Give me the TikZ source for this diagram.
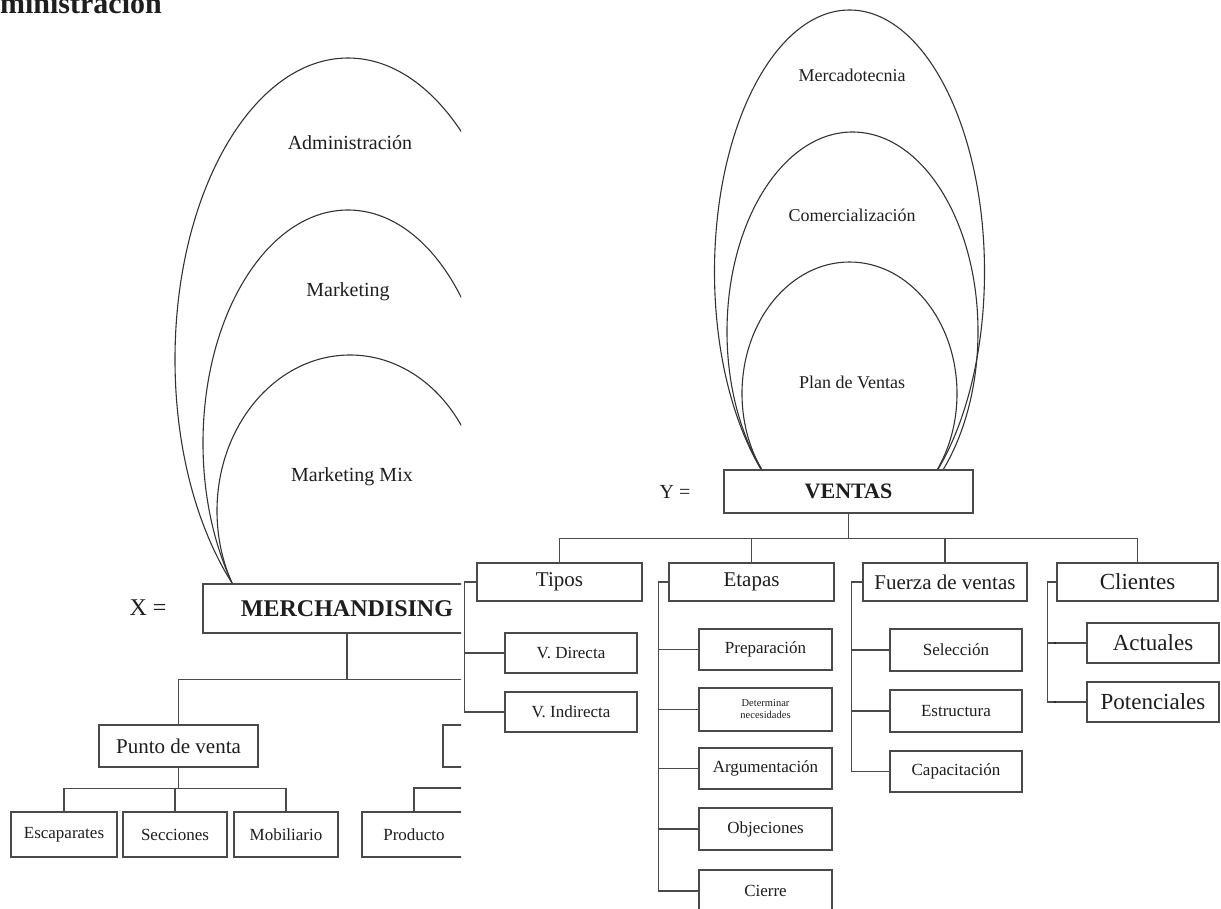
\documentclass[tikz,border=0pt]{standalone}
\usepackage{fontspec}
\setmainfont{Liberation Serif}
\usetikzlibrary{positioning}
\definecolor{linegray}{HTML}{4A4A4A}
\definecolor{inkgray}{HTML}{1E1E1E}
\tikzset{
  line/.style={draw=linegray,line width=1.3pt},
  box/.style={draw=linegray,line width=1.3pt,fill=white,text=inkgray,inner sep=0pt,align=center},
  oval/.style={draw=black!80,line width=1.1pt},
  ovaltext/.style={text=inkgray,inner sep=0pt,font=\fontsize{20}{24}\selectfont},
  small/.style={font=\fontsize{17}{20}\selectfont},
  head/.style={font=\fontsize{21}{24}\selectfont}
}
\begin{document}
\begin{tikzpicture}[x=1pt,y=-1pt]
\useasboundingbox (0,0) rectangle (1221,908);

% left picture (cut at the right)
\begin{scope}
\clip (0,0) rectangle (461,908);
\node[anchor=base east,inner sep=0pt,text=inkgray,font=\bfseries\fontsize{30}{34}\selectfont] (admintop) at (162,13) {ministración};
\begin{scope}
\clip (0,0) rectangle (461,583);
\draw[oval] (348,359.4) ellipse [x radius=173, y radius=301.4];
\draw[oval] (348,443) ellipse [x radius=145, y radius=233];
\draw[oval] (350,511) ellipse [x radius=133, y radius=156];
\end{scope}
\node[ovaltext] (admin) at (350,143) {Administración};
\node[ovaltext] (mkt) at (348,292) {Marketing};
\node[ovaltext] (mix) at (352,477) {Marketing Mix};

\node[text=inkgray,inner sep=0pt,font=\fontsize{24}{28}\selectfont] (xeq) at (148,608) {X =};
\node[box,minimum width=288pt,minimum height=49pt,font=\bfseries\fontsize{24}{28}\selectfont] (merch) at (347,608.5) {MERCHANDISING};

\node[box,head,minimum width=159pt,minimum height=42pt] (punto) at (178.5,746) {Punto de venta};
\node[box,minimum width=120pt,minimum height=42pt] (cutbox) at (503,746) {};
\node[box,small,minimum width=106pt,minimum height=45pt] (esc) at (64,834.5) {Escaparates};
\node[box,small,minimum width=104pt,minimum height=45pt] (secc) at (175,834.5) {Secciones};
\node[box,small,minimum width=104pt,minimum height=45pt] (mobil) at (286,834.5) {Mobiliario};
\node[box,small,minimum width=104pt,minimum height=45pt] (prod) at (414,834.5) {Producto};
\coordinate (prodbus) at (470,788);

\draw[line] (merch.south) -- ++(0,46) coordinate (mbus) -| (punto.north);
\draw[line] (mbus) -| (cutbox.north);
\draw[line] (punto.south) -- ++(0,21) coordinate (pbus) -| (esc.north);
\draw[line] (pbus) -| (mobil.north);
\draw[line] (pbus) -| (secc.north);
\draw[line] (prodbus) -| (prod.north);
\end{scope}

% right picture
\begin{scope}
\clip (462,0) rectangle (1221,470);
\draw[oval] (849.5,271.7) ellipse [x radius=135, y radius=261.7];
\draw[oval] (852.5,331.6) ellipse [x radius=125.5, y radius=199.6];
\draw[oval] (849.5,393.6) ellipse [x radius=107.5, y radius=131.6];
\end{scope}
\node[ovaltext,font=\fontsize{18}{21}\selectfont] (merc) at (852,75) {Mercadotecnia};
\node[ovaltext,font=\fontsize{18}{21}\selectfont] (comer) at (852,215) {Comercialización};
\node[ovaltext,font=\fontsize{18}{21}\selectfont] (plan) at (852,382) {Plan de Ventas};

\node[text=inkgray,inner sep=0pt,font=\fontsize{20}{24}\selectfont] (yeq) at (675,492) {Y =};
\node[box,minimum width=249pt,minimum height=43pt,font=\bfseries\fontsize{22}{26}\selectfont] (ventas) at (848.5,491.5) {VENTAS};

\node[box,head,minimum width=165pt,minimum height=38pt] (tipos) at (559.5,582) {Tipos};
\node[box,head,minimum width=165pt,minimum height=38pt] (etapas) at (751.5,582) {Etapas};
\node[box,head,minimum width=164pt,minimum height=38pt] (fuerza) at (945,582) {Fuerza de ventas};
\node[box,minimum width=161pt,minimum height=38pt,font=\fontsize{23}{26}\selectfont] (clientes) at (1137.5,582) {Clientes};

\node[box,small,minimum width=132pt,minimum height=40pt] (vdir) at (571,653) {V. Directa};
\node[box,small,minimum width=132pt,minimum height=40pt] (vind) at (571,712) {V. Indirecta};

\node[box,small,minimum width=133pt,minimum height=41pt] (prep) at (765.5,649.5) {Preparación};
\node[box,minimum width=133pt,minimum height=43pt,font=\fontsize{10.5}{12}\selectfont] (deter) at (765.5,709.5) {Determinar\\necesidades};
\node[box,small,minimum width=133pt,minimum height=41pt] (argu) at (765.5,768.5) {Argumentación};
\node[box,small,minimum width=133pt,minimum height=42pt] (obje) at (765.5,829) {Objeciones};
\node[box,small,minimum width=133pt,minimum height=42pt] (cierre) at (765.5,891) {Cierre};

\node[box,small,minimum width=132pt,minimum height=42pt] (sele) at (956,650) {Selección};
\node[box,small,minimum width=132pt,minimum height=42pt] (estr) at (956,711) {Estructura};
\node[box,small,minimum width=132pt,minimum height=41pt] (capa) at (956,771.5) {Capacitación};

\node[box,minimum width=132pt,minimum height=40pt,font=\fontsize{23}{26}\selectfont] (actu) at (1153,643) {Actuales};
\node[box,minimum width=132pt,minimum height=40pt,font=\fontsize{23}{26}\selectfont] (pote) at (1153,702) {Potenciales};

\draw[line] (ventas.south) -- ++(0,25) coordinate (vbus);
\foreach \n in {tipos,etapas,fuerza,clientes}
  \draw[line] (vbus) -| (\n.north);

\foreach \n in {vdir,vind}
  \draw[line] (tipos.west) -- ++(-12,0) |- (\n.west);
\foreach \n in {prep,deter,argu,obje,cierre}
  \draw[line] (etapas.west) -- ++(-10,0) |- (\n.west);
\foreach \n in {sele,estr,capa}
  \draw[line] (fuerza.west) -- ++(-11,0) |- (\n.west);
\foreach \n in {actu,pote}
  \draw[line] (clientes.west) -- ++(-9,0) |- (\n.west);
\fill[inkgray] (1055,643) circle (1.2);
\fill[inkgray] (1055,702) circle (1.2);

\end{tikzpicture}
\end{document}
